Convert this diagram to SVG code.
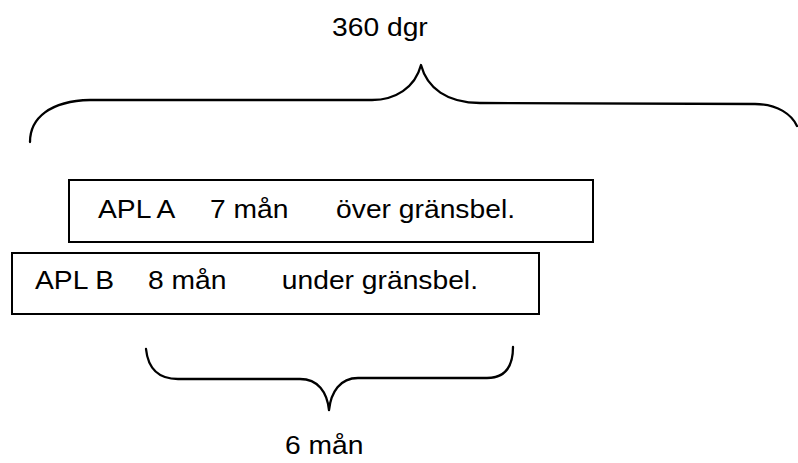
<svg xmlns="http://www.w3.org/2000/svg" width="798" height="463" viewBox="0 0 798 463">
<style>
.t{font-family:"Liberation Sans",Arial,Helvetica,sans-serif;font-size:25px;fill:#000}
.e{text-anchor:end}
.box{fill:#fff;stroke:#000;stroke-width:2}
.br{fill:none;stroke:#000;stroke-width:2.3;stroke-linecap:round;stroke-linejoin:round}
</style>
<rect width="798" height="463" fill="#fff"/>
<g id="connectors">
<path class="br" d="M30,142 C30,118 50,101 90,100 L372,100 C395,100 415,88 421,65 C427,88 447,103 480,103 L755,104 C778,104 792,115 797,126"/>
<path class="br" d="M146,349 C148,368 158,379 178,379 L300,379 C318,379 327,392 329,410 C331,392 340,378 358,378 L487,378 C505,378 513,367 513,347"/>
</g>
<g id="label-360"><text class="t" transform="translate(332,36) scale(1.13,1)">360 dgr</text></g>
<g id="boxA">
<rect class="box" x="69" y="180" width="524" height="62"/>
<text class="t" transform="translate(98,218) scale(1.13,1)">APL A</text>
<text class="t" transform="translate(210,218) scale(1.13,1)">7 mån</text>
<text class="t e" transform="translate(515,218) scale(1.13,1)">över gränsbel.</text>
</g>
<g id="boxB">
<rect class="box" x="12" y="253" width="527" height="61"/>
<text class="t" transform="translate(35,289) scale(1.13,1)">APL B</text>
<text class="t" transform="translate(148,289) scale(1.13,1)">8 mån</text>
<text class="t e" transform="translate(478,289) scale(1.13,1)">under gränsbel.</text>
</g>
<g id="label-6"><text class="t" transform="translate(285,454) scale(1.13,1)">6 mån</text></g>
</svg>
